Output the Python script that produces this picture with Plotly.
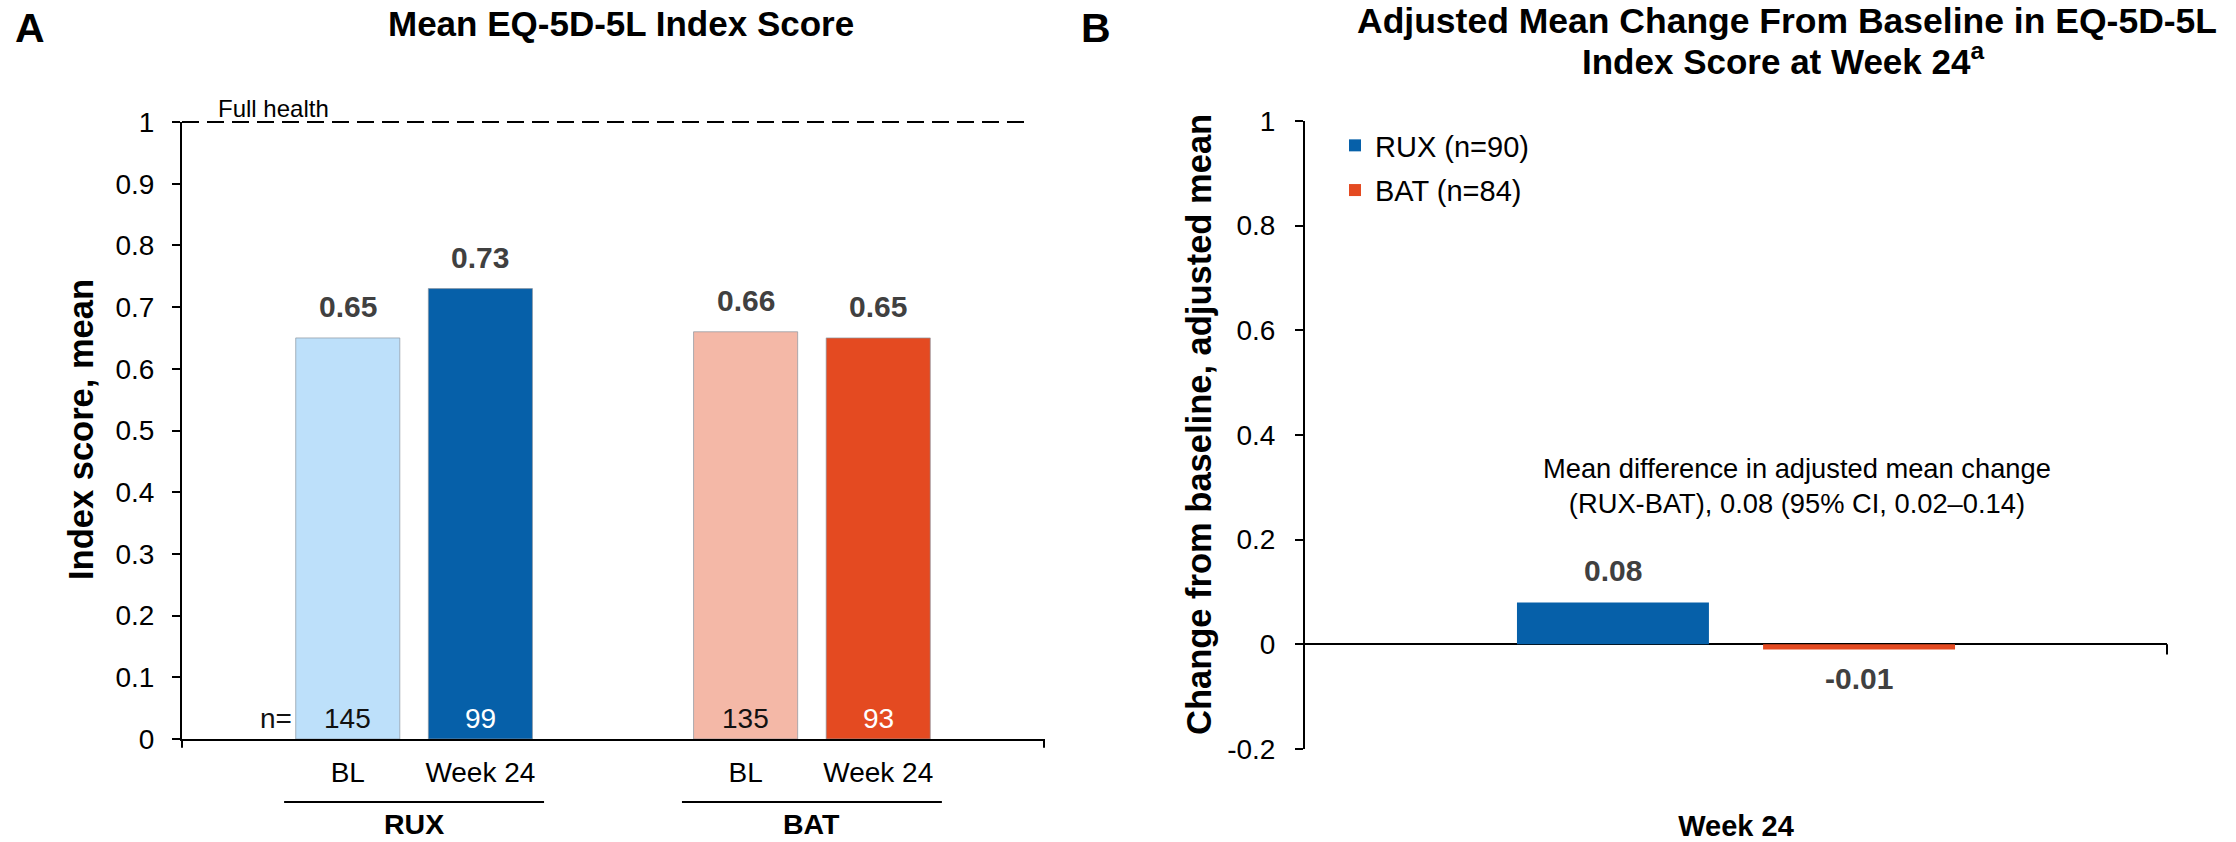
import plotly.graph_objects as go

# ---------------- data ----------------
groups = ["RUX", "RUX", "BAT", "BAT"]
timepoints = ["BL", "Week 24", "BL", "Week 24"]
mean_index = [0.65, 0.73, 0.66, 0.65]
n_patients = [145, 99, 135, 93]

change_labels = ["RUX", "BAT"]
change_n = [90, 84]
change_category = ["Week 24"]
adj_mean_change = [0.08, -0.01]
mean_diff = 0.08
ci_low, ci_high = 0.02, 0.14

yA_ticks = [0, 0.1, 0.2, 0.3, 0.4, 0.5, 0.6, 0.7, 0.8, 0.9, 1]
yB_ticks = [-0.2, 0, 0.2, 0.4, 0.6, 0.8, 1]

# ---------------- style ----------------
W, H = 2236, 842
FONT = "Liberation Sans, Arial, Helvetica, sans-serif"
colors_A = ["#BDE0FA", "#0660A9", "#F4B8A7", "#E44A21"]
ncolors_A = ["#111111", "#FFFFFF", "#111111", "#FFFFFF"]
colors_B = ["#0660A9", "#E44A21"]
VAL_COLOR = "#404040"
TITLE_SIZE = 35
YTITLE_SIZE = 34.5

# category slots: two groups with an empty slot between them
positions = [i + i // 2 + 1 for i in range(len(timepoints))]
BAR_W = 0.785


def px_x(p):
    return p / W


def px_y(p):
    return 1 - p / H


fig = go.Figure()

fig.add_trace(go.Bar(
    x=positions, y=mean_index, width=BAR_W,
    marker=dict(color=colors_A, line=dict(color="rgba(140,150,160,0.7)", width=1)),
    showlegend=False, hoverinfo="skip", xaxis="x", yaxis="y",
))

for i, lab in enumerate(change_labels):
    fig.add_trace(go.Bar(
        x=change_category, y=[adj_mean_change[i]],
        name=f"{lab} (n={change_n[i]})",
        marker=dict(color=colors_B[i], line=dict(width=0)),
        legendgroup=lab, xaxis="x2", yaxis="y2", hoverinfo="skip",
    ))

annotations = []
# panel letters and titles
annotations.append(dict(text="<b>A</b>", x=px_x(30), y=px_y(28), xref="paper", yref="paper",
                        showarrow=False, font=dict(size=41, color="black"), xanchor="center", yanchor="middle"))
annotations.append(dict(text="<b>B</b>", x=px_x(1096), y=px_y(28), xref="paper", yref="paper",
                        showarrow=False, font=dict(size=41, color="black"), xanchor="center", yanchor="middle"))
annotations.append(dict(text="<b>Mean EQ-5D-5L Index Score</b>", x=px_x(621), y=px_y(24),
                        xref="paper", yref="paper", showarrow=False,
                        font=dict(size=TITLE_SIZE, color="black"), xanchor="center", yanchor="middle"))
annotations.append(dict(text="<b>Adjusted Mean Change From Baseline in EQ-5D-5L</b>", x=px_x(1787), y=px_y(21),
                        xref="paper", yref="paper", showarrow=False,
                        font=dict(size=35.5, color="black"), xanchor="center", yanchor="middle"))
annotations.append(dict(text="<b>Index Score at Week 24<sup>a</sup></b>", x=px_x(1783), y=px_y(59),
                        xref="paper", yref="paper", showarrow=False,
                        font=dict(size=TITLE_SIZE, color="black"), xanchor="center", yanchor="middle"))
# y-axis titles
annotations.append(dict(text="<b>Index score, mean</b>", x=px_x(81), y=px_y(430), xref="paper", yref="paper",
                        textangle=-90, showarrow=False, font=dict(size=YTITLE_SIZE, color="black"),
                        xanchor="center", yanchor="middle"))
annotations.append(dict(text="<b>Change from baseline, adjusted mean</b>", x=px_x(1199), y=px_y(425),
                        xref="paper", yref="paper", textangle=-90, showarrow=False,
                        font=dict(size=YTITLE_SIZE, color="black"), xanchor="center", yanchor="middle"))
# full health
annotations.append(dict(text="Full health", x=0.04, y=1, xref="x domain", yref="y",
                        showarrow=False, font=dict(size=24, color="black"),
                        xanchor="left", yanchor="bottom", yshift=-2))
# value labels panel A
for p, v in zip(positions, mean_index):
    annotations.append(dict(text=f"<b>{v:.2f}</b>", x=p, y=v, xref="x", yref="y", showarrow=False,
                            font=dict(size=30, color=VAL_COLOR), xanchor="center", yanchor="bottom", yshift=13))
# n labels
for p, n, c in zip(positions, n_patients, ncolors_A):
    annotations.append(dict(text=str(n), x=p, y=0, xref="x", yref="y", showarrow=False,
                            font=dict(size=28, color=c), xanchor="center", yanchor="bottom", yshift=3))
annotations.append(dict(text="n=", x=positions[0] - BAR_W / 2, y=0, xref="x", yref="y", showarrow=False,
                        font=dict(size=28, color="#111111"), xanchor="right", yanchor="bottom",
                        yshift=3, xshift=-2))
# group labels and underlines
shapes = []
for g in ["RUX", "BAT"]:
    ps = [p for p, gg in zip(positions, groups) if gg == g]
    c = sum(ps) / len(ps)
    annotations.append(dict(text=f"<b>{g}</b>", x=c, y=px_y(824), xref="x", yref="paper", showarrow=False,
                            font=dict(size=28.5, color="black"), xanchor="center", yanchor="middle",
                            borderpad=0))
    shapes.append(dict(type="line", xref="x", yref="paper", x0=c - 0.98, x1=c + 0.98,
                       y0=px_y(802), y1=px_y(802), line=dict(color="black", width=2)))

# value labels panel B
bar_offsets = [-0.5, 0.5]
for i, v in enumerate(adj_mean_change):
    pos = v >= 0
    annotations.append(dict(text=f"<b>{v:.2f}</b>", x=change_category[0], y=v, xref="x2", yref="y2",
                            xshift=bar_offsets[i] * 246, showarrow=False,
                            font=dict(size=30, color=VAL_COLOR), xanchor="center",
                            yanchor="bottom" if pos else "top", yshift=13 if pos else -10))
annotations.append(dict(
    text=f"Mean difference in adjusted mean change<br>(RUX-BAT), {mean_diff:.2f} (95% CI, {ci_low:.2f}\u2013{ci_high:.2f})",
    x=px_x(1797), y=px_y(486), xref="paper", yref="paper", showarrow=False,
    font=dict(size=27.3, color="black"), xanchor="center", yanchor="middle", align="center"))

# dashed full-health reference line
shapes.append(dict(type="line", xref="x domain", yref="y domain", x0=0, x1=0.985, y0=1, y1=1,
                   line=dict(color="black", width=2, dash="17px,8px")))
# category-axis end ticks
for xx in [0, 1]:
    shapes.append(dict(type="line", xref="x domain", yref="y domain", x0=xx, x1=xx, y0=0, y1=-0.014,
                       line=dict(color="black", width=2)))
shapes.append(dict(type="line", xref="x2 domain", yref="y2 domain", x0=1, x1=1,
                   y0=0.2 / 1.2, y1=0.2 / 1.2 - 0.016, line=dict(color="black", width=2)))

fig.update_layout(
    width=W, height=H, autosize=False,
    margin=dict(l=0, r=0, t=0, b=0, pad=0, autoexpand=False),
    paper_bgcolor="white", plot_bgcolor="white",
    font=dict(family=FONT, color="black", size=28),
    barmode="group", bargap=0.429, bargroupgap=0.22,
    xaxis=dict(domain=[px_x(182), px_x(1044)], range=[-0.25, 6.25], anchor="y",
               tickvals=positions, ticktext=timepoints, ticks="", showline=True,
               linecolor="black", linewidth=2, showgrid=False, zeroline=False, automargin=False,
               tickfont=dict(size=28, color="black"), ticklabelstandoff=7, fixedrange=True),
    yaxis=dict(domain=[px_y(739), px_y(122)], range=[0, 1], anchor="x", automargin=False,
               tickvals=yA_ticks, ticktext=[f"{v:g}" for v in yA_ticks],
               ticks="outside", ticklen=8, tickwidth=2, tickcolor="black",
               showline=True, linecolor="black", linewidth=2, showgrid=False, zeroline=False,
               tickfont=dict(size=28, color="black"), ticklabelstandoff=12),
    xaxis2=dict(domain=[px_x(1305), px_x(2167)], anchor="y2", type="category", automargin=False,
                showline=False, ticks="", showgrid=False, zeroline=False,
                tickfont=dict(size=29, color="black"), ticklabelstandoff=57,
                tickvals=change_category, ticktext=[f"<b>{c}</b>" for c in change_category]),
    yaxis2=dict(domain=[px_y(749), px_y(121)], range=[-0.2, 1], anchor="x2", automargin=False,
                tickvals=yB_ticks, ticktext=[f"{v:g}" for v in yB_ticks],
                ticks="outside", ticklen=8, tickwidth=2, tickcolor="black",
                showline=True, linecolor="black", linewidth=2, showgrid=False,
                zeroline=True, zerolinecolor="black", zerolinewidth=2,
                tickfont=dict(size=28, color="black"), ticklabelstandoff=14),
    legend=dict(x=px_x(1335), y=px_y(120), xanchor="left", yanchor="top",
                font=dict(size=29, color="black"), traceorder="grouped", tracegroupgap=4,
                bgcolor="rgba(0,0,0,0)", itemclick=False, itemdoubleclick=False),
    showlegend=True,
    annotations=annotations,
    shapes=shapes,
)

# remove the default page margin so the figure fills the window exactly
fig.write_html("out.html", config={"displayModeBar": False},
               post_script="document.body.style.margin='0';")
